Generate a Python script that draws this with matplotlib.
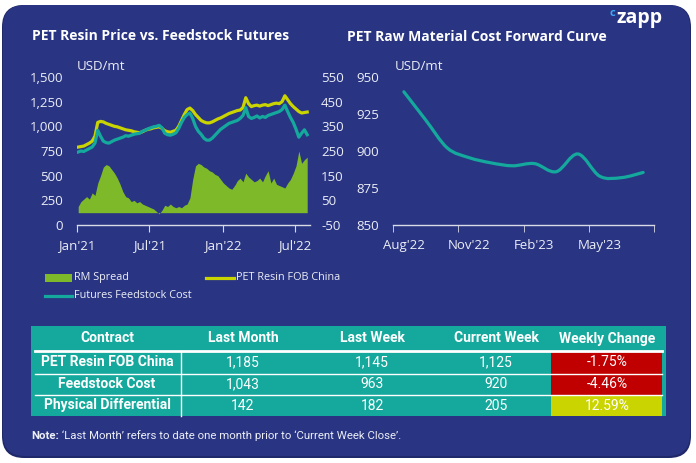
import matplotlib
matplotlib.use("Agg")
import matplotlib.pyplot as plt
from matplotlib.patches import FancyBboxPatch, Rectangle, PathPatch
from matplotlib.path import Path
from matplotlib.lines import Line2D
import pandas as pd
import datetime as dt

plt.rcParams["axes.unicode_minus"] = False

# colours
NAVY = "#293583"
TEAL = "#14a99c"
YELLOW = "#c9d400"
GREEN = "#7db928"
RED = "#c00000"
WHITE = "#ffffff"
TXT = "#eceef6"

# ---- left chart data (weekly, USD/mt) ----
dates = pd.date_range("2021-01-04", periods=83, freq="7D")
pet_resin = [790, 795, 800, 815, 830, 850, 900, 1040, 1050, 1045, 1030, 1020, 1010, 1000,
             995, 985, 975, 965, 960, 955, 945, 940, 935, 945, 960, 970, 975, 985, 990, 995,
             980, 955, 945, 940, 950, 960, 1000, 1060, 1120, 1170, 1185, 1160, 1120, 1090,
             1060, 1045, 1035, 1035, 1045, 1060, 1075, 1085, 1100, 1115, 1130, 1140, 1150,
             1160, 1165, 1190, 1290, 1230, 1200, 1210, 1215, 1205, 1215, 1220, 1210, 1220,
             1230, 1235, 1230, 1250, 1310, 1270, 1230, 1200, 1175, 1150, 1135, 1140, 1145]
feedstock = [740, 750, 745, 760, 775, 790, 830, 960, 900, 850, 835, 830, 845, 860, 870, 880,
             890, 905, 900, 910, 920, 925, 930, 950, 960, 975, 985, 995, 1000, 1010, 985, 930,
             915, 910, 920, 935, 980, 1040, 1090, 1120, 1135, 1080, 1000, 950, 920, 880, 860,
             860, 880, 910, 940, 970, 990, 1010, 1030, 1040, 1050, 1060, 1080, 1110, 1190,
             1100, 1080, 1090, 1105, 1085, 1100, 1090, 1110, 1120, 1130, 1140, 1150, 1170,
             1215, 1150, 1090, 1040, 970, 890, 930, 965, 915]
rm_spread = [25, 45, 55, 65, 55, 80, 70, 120, 150, 185, 195, 190, 175, 160, 140, 115, 85, 65,
             60, 45, 50, 40, 45, 35, 30, 25, 20, 15, 5, -5, 10, 30, 25, 35, 25, 20, 25, 20, 30,
             35, 60, 135, 190, 200, 195, 185, 180, 170, 165, 155, 150, 135, 120, 110, 100, 95,
             110, 130, 140, 125, 160, 145, 135, 125, 130, 140, 125, 150, 170, 120, 140, 115,
             110, 105, 100, 120, 135, 160, 190, 250, 200, 215, 225]

left_ticks = ["2021-01-01", "2021-07-01", "2022-01-01", "2022-07-01"]
left_labels = ["Jan'21", "Jul'21", "Jan'22", "Jul'22"]

# ---- right chart data ----
fwd_months = ["Aug'22", "Sep'22", "Oct'22", "Nov'22", "Dec'22", "Jan'23", "Feb'23",
              "Mar'23", "Apr'23", "May'23", "Jun'23", "Jul'23"]
fwd_cost = [940, 921, 902, 895.5, 892, 890, 891.5, 886, 898, 883, 882, 885.5]

# ---- table data ----
col_names = ["Contract", "Last Month", "Last Week", "Current Week", "Weekly Change"]
contracts = ["PET Resin FOB China", "Feedstock Cost", "Physical Differential"]
last_month = ["1,185", "1,043", "142"]
last_week = ["1,145", "963", "182"]
current_week = ["1,125", "920", "205"]
weekly_change = ["-1.75%", "-4.46%", "12.59%"]
change_colors = [RED, RED, YELLOW]

W, H = 696, 463
fig = plt.figure(figsize=(W / 100, H / 100), dpi=100)
fig.patch.set_facecolor("white")

bg = fig.add_axes([0, 0, 1, 1])
bg.set_xlim(0, W)
bg.set_ylim(H, 0)
bg.axis("off")
bg.add_patch(FancyBboxPatch((2, 5), 689, 453, boxstyle="round,pad=0,rounding_size=22",
                            fc="#1f2868", ec="none"))
bg.add_patch(FancyBboxPatch((3, 5), 687, 451, boxstyle="round,pad=0,rounding_size=22",
                            fc=NAVY, ec="none"))

FONT = "Open Sans"
NARROW = "Roboto"

# titles + logo
bg.text(32, 36, "PET Resin Price vs. Feedstock Futures", color=WHITE, fontsize=10,
        fontweight="bold", family=FONT, va="center", ha="left")
bg.text(347, 37, "PET Raw Material Cost Forward Curve", color=WHITE, fontsize=10,
        fontweight="bold", family=FONT, va="center", ha="left")
bg.text(663, 18, "zapp", color=WHITE, fontsize=14, fontweight="bold", family=FONT,
        va="center", ha="right")
bg.text(612, 13, "c", color="#3fa9f5", fontsize=8, fontweight="bold", family=FONT,
        va="center", ha="center")
bg.text(77, 66, "USD/mt", color=TXT, fontsize=9.5, family=FONT, va="center")
bg.text(395, 66, "USD/mt", color=TXT, fontsize=9.5, family=FONT, va="center")


def px_axes(x0, x1, y_top, y_bot):
    return fig.add_axes([x0 / W, 1 - y_bot / H, (x1 - x0) / W, (y_bot - y_top) / H])


def style_axis(ax):
    ax.set_facecolor("none")
    for s in ["top", "right", "left"]:
        ax.spines[s].set_visible(False)
    ax.spines["bottom"].set_color("#d8dae8")
    ax.spines["bottom"].set_linewidth(1)
    ax.tick_params(axis="y", length=0, labelcolor=TXT, labelsize=9.5, pad=10)
    ax.tick_params(axis="x", which="both", colors="#d8dae8", labelcolor=TXT,
                   labelsize=9.5, direction="out")
    for lab in ax.get_xticklabels() + ax.get_yticklabels():
        lab.set_family(FONT)


# ---- left chart ----
axl = px_axes(77, 310, 77, 225)
axr = axl.twinx()
axl.set_zorder(2)
axr.set_zorder(1)
axl.patch.set_visible(False)
axr.fill_between(dates, 0, rm_spread, color=GREEN, lw=0)
axr.set_ylim(-50, 550)
axr.set_yticks([-50, 50, 150, 250, 350, 450, 550])
axl.plot(dates, pet_resin, color=YELLOW, lw=2.3)
axl.plot(dates, feedstock, color=TEAL, lw=2.3)
axl.set_ylim(0, 1500)
axl.set_yticks([0, 250, 500, 750, 1000, 1250, 1500])
axl.yaxis.set_major_formatter(matplotlib.ticker.StrMethodFormatter("{x:,.0f}"))
axl.set_xlim(dt.date(2021, 1, 1), dt.date(2022, 8, 8))
axl.set_xticks(pd.to_datetime(left_ticks))
axl.set_xticklabels(left_labels)
style_axis(axl)
axl.tick_params(axis="x", length=5, pad=5)
style_axis(axr)
axr.spines["bottom"].set_visible(False)
axr.tick_params(axis="y", pad=8)

# ---- right chart ----
axf = px_axes(393, 654, 77, 225)
axf.set_xlim(-0.5, len(fwd_months) - 0.5)
axf.set_ylim(850, 950)
axf.set_yticks([850, 875, 900, 925, 950])
xs = list(range(len(fwd_cost)))
# smooth curve through the points (Catmull-Rom as cubic Bezier)
verts = [(xs[0], fwd_cost[0])]
codes = [Path.MOVETO]
n = len(xs)
for i in range(n - 1):
    p0 = (xs[max(i - 1, 0)], fwd_cost[max(i - 1, 0)])
    p1 = (xs[i], fwd_cost[i])
    p2 = (xs[i + 1], fwd_cost[i + 1])
    p3 = (xs[min(i + 2, n - 1)], fwd_cost[min(i + 2, n - 1)])
    c1 = (p1[0] + (p2[0] - p0[0]) / 6, p1[1] + (p2[1] - p0[1]) / 6)
    c2 = (p2[0] - (p3[0] - p1[0]) / 6, p2[1] - (p3[1] - p1[1]) / 6)
    verts += [c1, c2, p2]
    codes += [Path.CURVE4] * 3
axf.add_patch(PathPatch(Path(verts, codes), fill=False, ec=TEAL, lw=2.3,
                        capstyle="round", joinstyle="round"))
axf.set_xticks([0, 3, 6, 9])
axf.set_xticklabels([fwd_months[i] for i in [0, 3, 6, 9]])
axf.set_xticks([-0.5, 2.5, 5.5, 8.5, 11.5], minor=True)
style_axis(axf)
axf.tick_params(axis="x", which="major", length=0, pad=10)
axf.tick_params(axis="x", which="minor", length=5)

# ---- legend ----
bg.add_patch(Rectangle((45, 274), 27, 7.5, fc=GREEN, ec="none"))
bg.text(74, 277.5, "RM Spread", color=TXT, fontsize=7.8, family=FONT, va="center")
bg.add_line(Line2D([206, 234], [277.5, 277.5], color=YELLOW, lw=2.3))
bg.text(236, 277.5, "PET Resin FOB China", color=TXT, fontsize=7.8, family=FONT, va="center")
bg.add_line(Line2D([45, 72], [296, 296], color=TEAL, lw=2.3))
bg.text(74, 296, "Futures Feedstock Cost", color=TXT, fontsize=7.8, family=FONT, va="center")

# ---- table ----
tx0, tx1 = 31, 666
row_edges = [326, 351, 374, 395, 416]
col_centers = [107, 243, 372, 496, 607]
bg.add_patch(Rectangle((tx0, row_edges[0]), tx1 - tx0, row_edges[-1] - row_edges[0],
                       fc=TEAL, ec="none"))
for r in range(3):
    bg.add_patch(Rectangle((551, row_edges[r + 1]), 662 - 551,
                           row_edges[r + 2] - row_edges[r + 1], fc=change_colors[r], ec="none"))
bg.add_line(Line2D([35, 662], [351, 351], color=WHITE, lw=2))
for y in row_edges[2:4]:
    bg.add_line(Line2D([35, 662], [y, y], color=WHITE, lw=1))
bg.add_line(Line2D([181, 181], [351, 416], color=WHITE, lw=1))

for c, name in enumerate(col_names):
    bg.text(col_centers[c], (row_edges[0] + row_edges[1]) / 2, name, color=WHITE,
            fontsize=10, fontweight="bold", family=NARROW, ha="center", va="center")
columns = [contracts, last_month, last_week, current_week, weekly_change]
for r in range(3):
    yc = (row_edges[r + 1] + row_edges[r + 2]) / 2
    for c, col in enumerate(columns):
        bg.text(col_centers[c], yc, col[r], color=WHITE, fontsize=10,
                fontweight="bold" if c == 0 else "normal", family=NARROW,
                ha="center", va="center")

t1 = bg.text(31, 436, "Note:", color=TXT, fontsize=8.2, fontweight="bold", family=NARROW,
             va="center")
bg.annotate(" \u2018Last Month\u2019 refers to date one month prior to \u2018Current Week Close\u2019.",
            xy=(1, 0.5), xycoords=t1, color=TXT, fontsize=8.2, family=NARROW,
            va="center", ha="left")

fig.savefig("out.png", dpi=100, facecolor="white")
